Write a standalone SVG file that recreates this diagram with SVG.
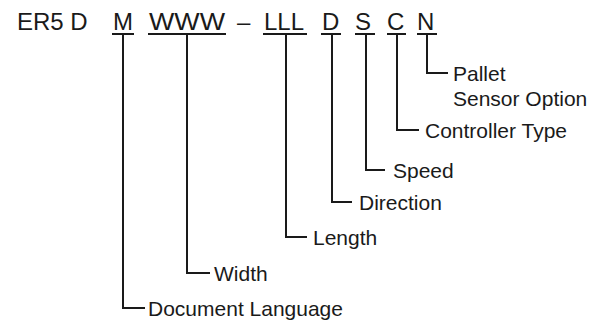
<svg xmlns="http://www.w3.org/2000/svg" width="608" height="322" viewBox="0 0 608 322">
<style>
.code{font-family:"Liberation Sans",Arial,sans-serif;font-size:24px;fill:#1a1a1a}
.lbl{font-family:"Liberation Sans",Arial,sans-serif;font-size:21px;fill:#1a1a1a}
.ln{stroke:#1a1a1a;stroke-width:2;fill:none}
</style>
<rect width="608" height="322" fill="#fff"/>
<g id="code">
<text class="code" x="17" y="30">ER5 D</text>
<text class="code" x="113" y="30">M</text>
<text class="code" x="149" y="30" textLength="76" lengthAdjust="spacingAndGlyphs">WWW</text>
<text class="code" x="237" y="30">–</text>
<text class="code" x="264" y="30">LLL</text>
<text class="code" x="322" y="30">D</text>
<text class="code" x="355" y="30">S</text>
<text class="code" x="387" y="30">C</text>
<text class="code" x="417" y="30">N</text>
</g>
<g id="connectors">
<path class="ln" d="M112 34H134M123 34V308H145"/>
<path class="ln" d="M148 34H226M187 34V273H210"/>
<path class="ln" d="M263 34H307M286 34V237H307"/>
<path class="ln" d="M321 34H341M332 34V202H352"/>
<path class="ln" d="M355 34H375M366 34V170H385"/>
<path class="ln" d="M387 34H406M397 34V130H419"/>
<path class="ln" d="M417 34H437M427 34V73H448"/>
</g>
<g id="n-pallet"><text class="lbl" x="453" y="81">Pallet</text><text class="lbl" x="453" y="106">Sensor Option</text></g>
<g id="n-controller"><text class="lbl" x="425" y="138">Controller Type</text></g>
<g id="n-speed"><text class="lbl" x="393" y="178">Speed</text></g>
<g id="n-direction"><text class="lbl" x="359" y="210">Direction</text></g>
<g id="n-length"><text class="lbl" x="313" y="245">Length</text></g>
<g id="n-width"><text class="lbl" x="214" y="281">Width</text></g>
<g id="n-doclang"><text class="lbl" x="148" y="316">Document Language</text></g>
</svg>
